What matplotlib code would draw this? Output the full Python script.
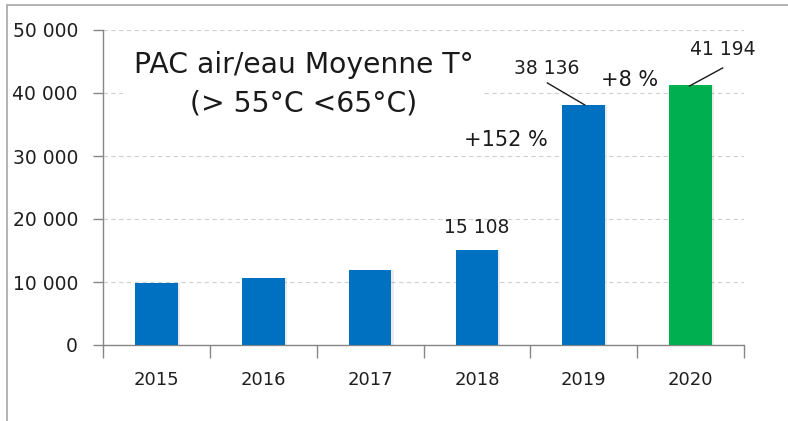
import matplotlib
matplotlib.use("Agg")
import matplotlib.pyplot as plt
from matplotlib.patches import Rectangle

years = ["2015", "2016", "2017", "2018", "2019", "2020"]
values = [9800, 10700, 11900, 15108, 38136, 41194]
colors = ["#0070C0", "#0070C0", "#0070C0", "#0070C0", "#0070C0", "#00B050"]
yticks = [0, 10000, 20000, 30000, 40000, 50000]
ytick_labels = ["0", "10 000", "20 000", "30 000", "40 000", "50 000"]
value_labels = ["15 108", "38 136", "41 194"]
growth_labels = ["+152 %", "+8 %"]

plt.rcParams['font.family'] = ['DejaVu Sans']

fig = plt.figure(figsize=(7.88, 4.21), dpi=100)
fig.patches.append(Rectangle((7/788, -0.1), 1.2, 1 - 5/421 + 0.1, transform=fig.transFigure,
                             fill=False, edgecolor="#A6A6A6", linewidth=1.2))
ax = fig.add_axes([103/788, (421-345)/421, (744-103)/788, 315/421])

x = list(range(len(years)))
for i, v in enumerate(values):
    ax.bar(i + 0.02, v, width=0.4, color="#000000", alpha=0.08, zorder=2)
ax.bar(x, values, width=0.4, color=colors, zorder=3)

ax.set_xlim(-0.5, 5.5)
ax.set_ylim(0, 50000)
ax.set_yticks(yticks)
ax.set_yticklabels(ytick_labels)
ax.set_xticks(x)
ax.set_xticklabels(years)
ax.set_xticks([i - 0.5 for i in range(len(years) + 1)], minor=True)
ax.tick_params(axis='x', which='major', length=0, pad=19, labelsize=13, labelcolor="#1f1f1f")
ax.tick_params(axis='x', which='minor', length=9, color="#868686", width=1)
ax.tick_params(axis='y', length=7, color="#868686", width=1, labelsize=13.5, labelcolor="#1f1f1f", pad=11)

for s in ["top", "right"]:
    ax.spines[s].set_visible(False)
for s in ["left", "bottom"]:
    ax.spines[s].set_color("#868686")
    ax.spines[s].set_linewidth(1)

ax.yaxis.grid(True, color="#D0D0D0", linestyle=(0, (4, 3)), linewidth=0.8, zorder=0)
ax.set_axisbelow(True)

# white title box
ax.add_patch(Rectangle((-0.31, 34500), 3.36, 14000, facecolor="white", edgecolor="none", zorder=1))
ax.text(1.38, 44450, "PAC air/eau Moyenne T°", ha="center", va="center",
        fontsize=20.3, color="#1a1a1a", zorder=4)
ax.text(1.38, 38400, "(> 55°C <65°C)", ha="center", va="center",
        fontsize=20.3, color="#1a1a1a", zorder=4)

lab_kw = dict(ha="center", va="center", fontsize=13.5, color="#1f1f1f", zorder=5)
ax.text(3.0, 18730, value_labels[0], **lab_kw)
ax.text(3.65, 43810, value_labels[1], **lab_kw)
ax.plot([3.66, 4.01], [41590, 38100], color="#1a1a1a", lw=1, zorder=5)
ax.text(5.30, 46830, value_labels[2], **lab_kw)
ax.plot([5.30, 4.99], [43970, 41110], color="#1a1a1a", lw=1, zorder=5)
ax.text(4.43, 42060, growth_labels[1], ha="center", va="center", fontsize=15, color="#1a1a1a", zorder=5)
ax.text(3.27, 32540, growth_labels[0], ha="center", va="center", fontsize=15, color="#1a1a1a", zorder=5)

fig.savefig("out.png", dpi=100)
